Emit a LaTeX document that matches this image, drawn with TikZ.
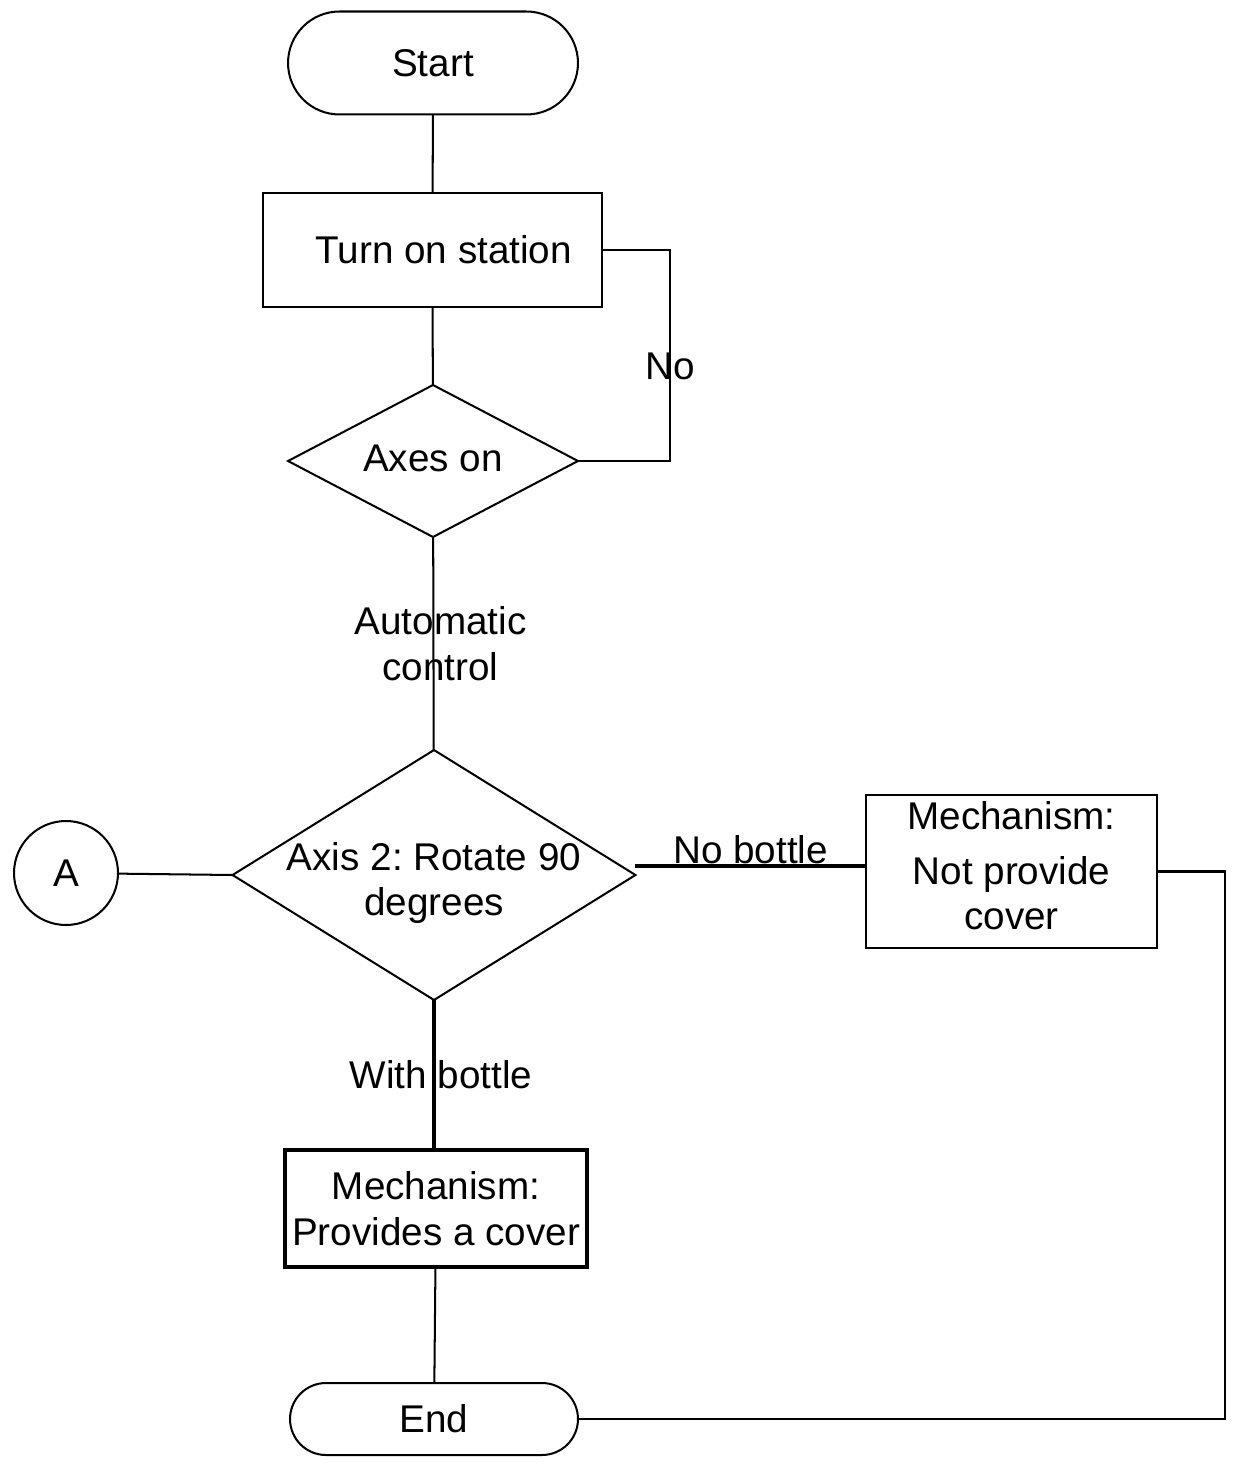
\documentclass[tikz,border=0pt]{standalone}
\usepackage{fontspec}
\setmainfont{Liberation Sans}
\usepackage{tikz}
\usetikzlibrary{shapes.geometric,calc}
\frenchspacing

\begin{document}
\begin{tikzpicture}[x=0.02cm,y=-0.02cm,line width=1.15pt,
  every node/.style={font=\fontsize{22}{26}\selectfont,align=center,outer sep=0pt},
  term/.style n args={2}{draw,rectangle,minimum width=#1cm,minimum height=#2cm,rounded corners=#2*0.5cm},
  proc/.style n args={2}{draw,rectangle,minimum width=#1cm,minimum height=#2cm},
  dec/.style n args={2}{draw,diamond,inner sep=0pt,minimum width=#1cm,minimum height=#2cm},
  heavy/.style={line width=2.8pt},
  lbl/.style={inner sep=1pt,xshift=0.14cm}]
\useasboundingbox (0,0) rectangle (1233,1463);
% main column
\node[term={5.8}{2.06}] (start) at (433,63) {Start};
\node[proc={6.78}{2.28}] (turn) at (432.5,250) {\hspace{0.45cm}Turn on station};
\node[dec={5.8}{3.04},label={[yshift=0.06cm]center:Axes on}] (axes) at (433,461) {};
\node[dec={8.06}{5.0},label={[yshift=-0.16cm]center:{Axis 2: Rotate 90\\degrees}}] (rot) at (434,875) {};
\node[proc={6.04}{2.34},line width=2.4pt] (prov) at (436,1208.5) {Mechanism:\\Provides a cover};
\node[term={5.76}{1.44}] (end) at (434,1419) {End};
% side branches
\node[circle,draw,minimum size=2.08cm,inner sep=0pt] (a) at (66,873) {A};
\node[proc={5.82}{3.06},label={[yshift=0.11cm]center:{Mechanism:\\[5pt]Not provide\\cover}}] (nocov) at (1011.5,871.5) {};
\coordinate (noback) at (670,461);
\coordinate (nb) at ($(rot.east)+(0,-9)$);
\coordinate (cv) at (1225,871.5);
% connectors
\draw (start) -- (turn);
\draw (turn) -- (axes);
\draw (axes.east) -- (noback) -- node[pos=0.45,inner sep=1pt]{No} (noback |- turn.east) -- (turn.east);
\draw (axes) -- node[lbl]{Automatic\\control} (rot);
\draw (a) -- (rot.west);
\draw[heavy] (nb) -- node[above,inner sep=1pt]{No bottle} (nb -| nocov.west);
\draw (nocov.east) -- (cv) |- (end.east);
\draw[heavy] (rot.south) -- node[lbl]{With bottle} (rot.south |- prov.north);
\draw (prov) -- (end);
\end{tikzpicture}
\end{document}
